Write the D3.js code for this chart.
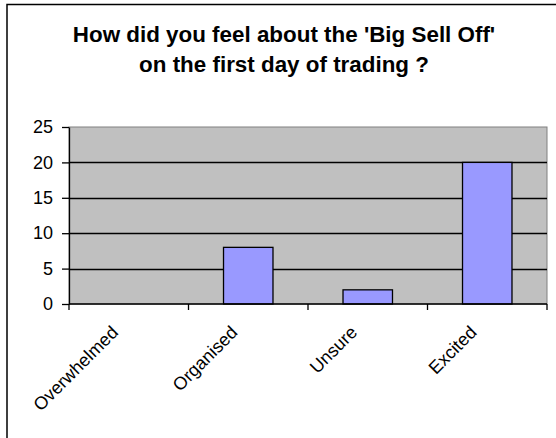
<!DOCTYPE html>
<html>
<head>
<meta charset="utf-8">
<script src="https://cdn.jsdelivr.net/npm/d3@7"></script>
<style>
  html, body { margin: 0; padding: 0; background: #fff; }
  svg { display: block; font-family: "Liberation Sans", Arial, sans-serif; }
</style>
</head>
<body>
<svg id="chart" width="556" height="438"></svg>
<script>
// Survey responses
const categories = ["Overwhelmed", "Organised", "Unsure", "Excited"];
const values = [0, 8, 2, 20];
const yTicks = [0, 5, 10, 15, 20, 25];
const titleLines = ["How did you feel about the 'Big Sell Off'", "on the first day of trading ?"];

const W = 556, H = 438;
const plot = { left: 69, right: 547, top: 127, bottom: 304 };

const svg = d3.select("#chart");

// outer chart frame (runs past the right and bottom edges)
svg.append("rect")
  .attr("x", 7).attr("y", 4.5)
  .attr("width", W).attr("height", H)
  .attr("fill", "#fff").attr("stroke", "#000").attr("stroke-width", 1.5);

// title
svg.append("g").selectAll("text")
  .data(titleLines)
  .join("text")
  .attr("x", 284)
  .attr("y", (d, i) => 42 + i * 30)
  .attr("text-anchor", "middle")
  .attr("font-size", 22.4)
  .attr("font-weight", "bold")
  .attr("fill", "#000")
  .text(d => d);

const x = d3.scaleBand()
  .domain(categories)
  .range([plot.left, plot.right])
  .paddingInner(0.586)
  .paddingOuter(0.293);

const y = d3.scaleLinear()
  .domain([0, 25])
  .range([plot.bottom, plot.top]);

// plot area background
svg.append("rect")
  .attr("x", plot.left).attr("y", plot.top)
  .attr("width", plot.right - plot.left)
  .attr("height", plot.bottom - plot.top)
  .attr("fill", "#c0c0c0")
  .attr("stroke", "#808080").attr("stroke-width", 1);

// horizontal gridlines
svg.append("g").selectAll("line")
  .data(yTicks.filter(t => t > 0 && t < 25))
  .join("line")
  .attr("x1", plot.left).attr("x2", plot.right)
  .attr("y1", d => Math.round(y(d)) + 0.5)
  .attr("y2", d => Math.round(y(d)) + 0.5)
  .attr("stroke", "#000").attr("stroke-width", 1.3);

// bars
svg.append("g").selectAll("rect")
  .data(categories.map((c, i) => ({ c, v: values[i] })).filter(d => d.v > 0))
  .join("rect")
  .attr("x", d => x(d.c))
  .attr("y", d => y(d.v))
  .attr("width", x.bandwidth())
  .attr("height", d => y(0) - y(d.v))
  .attr("fill", "#9999ff")
  .attr("stroke", "#000").attr("stroke-width", 1.3);

// y axis
const yAxis = svg.append("g")
  .attr("transform", `translate(${plot.left},0)`)
  .call(d3.axisLeft(y).tickValues(yTicks).tickSize(7).tickSizeOuter(0).tickPadding(9));
yAxis.select(".domain").attr("stroke", "#000").attr("stroke-width", 1.3);
yAxis.selectAll(".tick line").attr("stroke", "#000").attr("stroke-width", 1.3);
yAxis.selectAll(".tick text")
  .attr("font-size", 18)
  .attr("font-family", "Liberation Sans, Arial, sans-serif")
  .attr("fill", "#000");

// x axis line and category boundary ticks
svg.append("line")
  .attr("x1", plot.left).attr("x2", plot.right)
  .attr("y1", plot.bottom).attr("y2", plot.bottom)
  .attr("stroke", "#000").attr("stroke-width", 1.5);

svg.append("g").selectAll("line")
  .data(d3.range(categories.length + 1))
  .join("line")
  .attr("x1", i => plot.left + i * x.step())
  .attr("x2", i => plot.left + i * x.step())
  .attr("y1", plot.bottom).attr("y2", plot.bottom + 6)
  .attr("stroke", "#000").attr("stroke-width", 1.3);

// rotated category labels
svg.append("g").selectAll("text")
  .data(categories)
  .join("text")
  .attr("transform", d => `translate(${x(d) + x.bandwidth() / 2 - 14},329) rotate(-45)`)
  .attr("text-anchor", "end")
  .attr("dy", "0.35em")
  .attr("font-size", 18)
  .attr("fill", "#000")
  .text(d => d);
</script>
</body>
</html>
